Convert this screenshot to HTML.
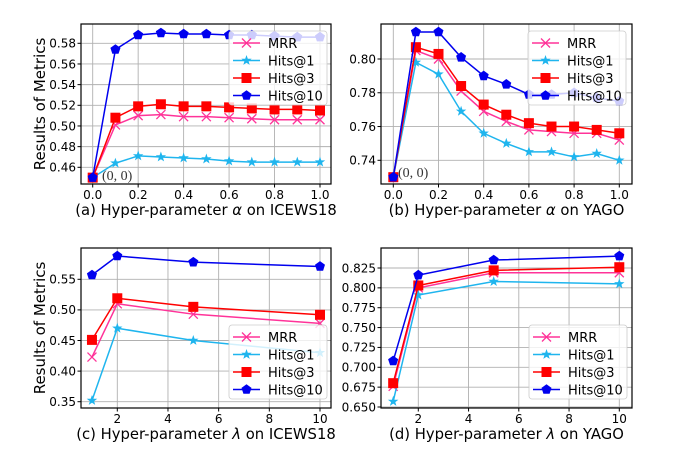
<!DOCTYPE html>
<html><head><meta charset="utf-8"><style>
body{margin:0;background:#fff;}
svg{display:block;font-family:"DejaVu Sans","Liberation Sans",sans-serif;}
</style></head><body>
<svg id="c" width="677" height="457" viewBox="0 0 677 457" xmlns="http://www.w3.org/2000/svg"></svg>
<script>
const seriesNames=["MRR","Hits@1","Hits@3","Hits@10"];
const alphaX=[0,0.1,0.2,0.3,0.4,0.5,0.6,0.7,0.8,0.9,1.0];
const lambdaX=[1,2,5,10];
const aIcewsMRR=[.45,.501,.510,.511,.509,.509,.508,.507,.506,.506,.506];
const aIcewsH1=[.45,.464,.471,.470,.469,.468,.466,.465,.465,.465,.465];
const aIcewsH3=[.45,.508,.519,.521,.519,.519,.518,.517,.516,.516,.515];
const aIcewsH10=[.45,.574,.588,.590,.589,.589,.588,.588,.587,.586,.586];
const aYagoMRR=[.730,.805,.800,.781,.769,.763,.758,.757,.756,.756,.752];
const aYagoH1=[.730,.798,.791,.769,.756,.750,.745,.745,.742,.744,.740];
const aYagoH3=[.730,.807,.803,.784,.773,.767,.762,.760,.760,.758,.756];
const aYagoH10=[.730,.816,.816,.801,.790,.785,.779,.779,.780,.777,.775];
const lIcewsMRR=[.423,.510,.493,.478];
const lIcewsH1=[.352,.470,.450,.430];
const lIcewsH3=[.451,.519,.505,.492];
const lIcewsH10=[.557,.588,.578,.571];
const lYagoMRR=[.676,.800,.819,.819];
const lYagoH1=[.657,.791,.808,.805];
const lYagoH3=[.680,.803,.822,.826];
const lYagoH10=[.708,.816,.835,.840];
const alphaTicks=[0,0.2,0.4,0.6,0.8,1.0];
const alphaTickLabels=["0.0","0.2","0.4","0.6","0.8","1.0"];
const lambdaTicks=[2,4,6,8,10];
const aIcewsYTicks=[.46,.48,.50,.52,.54,.56,.58];
const aYagoYTicks=[.74,.76,.78,.80];
const lIcewsYTicks=[.35,.40,.45,.50,.55];
const lYagoYTicks=[.650,.675,.700,.725,.750,.775,.800,.825];

const colors=["#ff3399","#1fb5ee","#ff0000","#0000ee"];
const NS="http://www.w3.org/2000/svg";
const svg=document.getElementById('c');
function mk(t,a,p){const e=document.createElementNS(NS,t);for(const k in a)e.setAttribute(k,a[k]);(p||svg).appendChild(e);return e;}

function marker(g,kind,x,y,col){
  let e;
  if(kind===0){e=mk('path',{d:`M${x-4.5},${y-4.5}L${x+4.5},${y+4.5}M${x-4.5},${y+4.5}L${x+4.5},${y-4.5}`,stroke:col,'stroke-width':1.3,fill:'none'},g);}
  else if(kind===1){let p=[];for(let i=0;i<10;i++){const r=i%2?2.2:5.5;const a=-Math.PI/2+i*Math.PI/5;p.push((x+r*Math.cos(a)).toFixed(1)+','+(y+r*Math.sin(a)).toFixed(1));}e=mk('polygon',{points:p.join(' '),fill:col},g);}
  else if(kind===2){e=mk('rect',{x:x-5,y:y-5,width:10,height:10,fill:col},g);}
  else {let p=[];for(let i=0;i<5;i++){const a=-Math.PI/2+i*2*Math.PI/5;p.push((x+5.3*Math.cos(a)).toFixed(1)+','+(y+5.3*Math.sin(a)).toFixed(1));}e=mk('polygon',{points:p.join(' '),fill:col},g);}
  
  
}

function panel(o){
  const g=mk('g',{});
  
  
  const sx=v=>o.x0+(v-o.xa)/(o.xb-o.xa)*(o.x1-o.x0);
  const sy=v=>o.y0+(v-o.ya)/(o.yb-o.ya)*(o.y1-o.y0);
  o.xt.forEach((v,i)=>{const X=sx(v);
    mk('line',{x1:X,x2:X,y1:o.top,y2:o.bot,stroke:'#b0b0b0','stroke-width':0.9},g);
    mk('line',{x1:X,x2:X,y1:o.bot,y2:o.bot+3.5,stroke:'#000'},g);
    const t=mk('text',{x:X,y:o.bot+15,'font-size':12,'text-anchor':'middle'},g);t.textContent=o.xl[i];
    });
  o.yt.forEach((v,i)=>{const Y=sy(v);
    mk('line',{x1:o.left,x2:o.right,y1:Y,y2:Y,stroke:'#b0b0b0','stroke-width':0.9},g);
    mk('line',{x1:o.left-3.5,x2:o.left,y1:Y,y2:Y,stroke:'#000'},g);
    const t=mk('text',{x:o.left-5,y:Y+4.3,'font-size':12,'text-anchor':'end'},g);t.textContent=o.yl[i];
    });
  o.series.forEach((s,k)=>{
    const sg=mk('g',{},g);
    
    
    mk('polyline',{points:o.xs.map((x,i)=>sx(x)+','+sy(s[i])).join(' '),fill:'none',stroke:colors[k],'stroke-width':1.5},sg);
    o.xs.forEach((x,i)=>marker(sg,k,sx(x),sy(s[i]),colors[k]));
  });
  if(o.ann){const t=mk('text',{x:o.ann[0],y:o.ann[1],'font-size':14,'font-family':'Liberation Serif,serif',fill:'#333'},g);t.textContent='(0, 0)';
    }
  const L=mk('g',{},g);
  mk('rect',{x:o.lg[0],y:o.lg[1],width:98,height:74,rx:3,fill:'rgba(255,255,255,0.8)',stroke:'#ccc','stroke-width':0.8},L);
  seriesNames.forEach((n,k)=>{const yy=o.lg[1]+12+k*17.5;
    const e=mk('g',{},L);
    mk('line',{x1:o.lg[0]+4,x2:o.lg[0]+31,y1:yy,y2:yy,stroke:colors[k],'stroke-width':1.5},e);
    marker(e,k,o.lg[0]+17.5,yy,colors[k]);
    const t=mk('text',{x:o.lg[0]+39,y:yy+5,'font-size':13},e);t.textContent=n;});
  mk('rect',{x:o.left,y:o.top,width:o.right-o.left,height:o.bot-o.top,fill:'none',stroke:'#000','stroke-width':1.2},g);
  const t=mk('text',{x:(o.left+o.right)/2,y:o.bot+31,'font-size':14.8,'text-anchor':'middle'},g);
  t.innerHTML=o.title;
}
const aTL=alphaTickLabels;
panel({name:'panel-a',left:81,right:331,top:24,bot:184,x0:92.7,x1:320,xa:0,xb:1,y0:167.3,y1:43.3,ya:.46,yb:.58,
  xs:alphaX,series:[aIcewsMRR,aIcewsH1,aIcewsH3,aIcewsH10],xt:alphaTicks,xl:aTL,yt:aIcewsYTicks,yl:aIcewsYTicks.map(v=>v.toFixed(2)),
  lg:[229,31],ann:[102,180],title:'(a) Hyper-parameter <tspan font-style="italic">α</tspan> on ICEWS18'});
panel({name:'panel-b',left:381,right:632,top:24,bot:184,x0:393.3,x1:619.3,xa:0,xb:1,y0:160.3,y1:59,ya:.74,yb:.80,
  xs:alphaX,series:[aYagoMRR,aYagoH1,aYagoH3,aYagoH10],xt:alphaTicks,xl:aTL,yt:aYagoYTicks,yl:aYagoYTicks.map(v=>v.toFixed(2)),
  lg:[528,31],ann:[398,177],title:'(b) Hyper-parameter <tspan font-style="italic">α</tspan> on YAGO'});
panel({name:'panel-c',left:81,right:331,top:248,bot:408,x0:117.3,x1:320,xa:2,xb:10,y0:401.7,y1:279.3,ya:.35,yb:.55,
  xs:lambdaX,series:[lIcewsMRR,lIcewsH1,lIcewsH3,lIcewsH10],xt:lambdaTicks,xl:lambdaTicks.map(String),yt:lIcewsYTicks,yl:lIcewsYTicks.map(v=>v.toFixed(2)),
  lg:[229,325],title:'(c) Hyper-parameter <tspan font-style="italic">λ</tspan> on ICEWS18'});
panel({name:'panel-d',left:381,right:632,top:248,bot:408,x0:418.3,x1:619.3,xa:2,xb:10,y0:407,y1:268,ya:.65,yb:.825,
  xs:lambdaX,series:[lYagoMRR,lYagoH1,lYagoH3,lYagoH10],xt:lambdaTicks,xl:lambdaTicks.map(String),yt:lYagoYTicks,yl:lYagoYTicks.map(v=>v.toFixed(3)),
  lg:[529,325],title:'(d) Hyper-parameter <tspan font-style="italic">λ</tspan> on YAGO'});
[[104],[328]].forEach(([cy])=>{const t=mk('text',{x:0,y:0,'font-size':15,'text-anchor':'middle',transform:`translate(45,${cy}) rotate(-90)`});
  t.textContent='Results of Metrics';
  
  });
</script>
</body></html>
